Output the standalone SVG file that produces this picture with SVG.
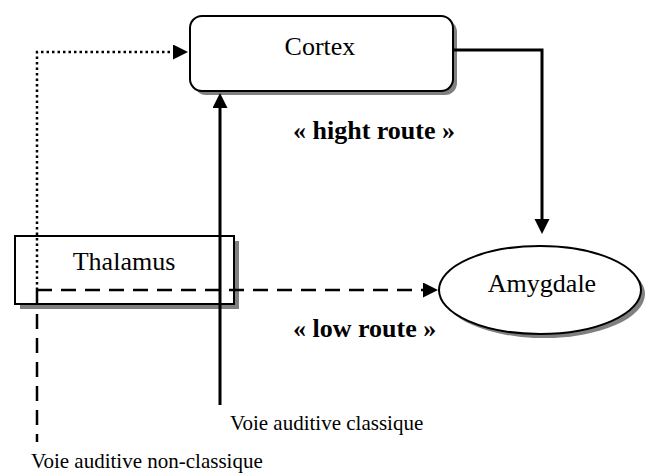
<svg xmlns="http://www.w3.org/2000/svg" width="648" height="474" viewBox="0 0 648 474">
<style>
.lbl{font-family:"Liberation Serif","Times New Roman",serif;fill:#000}
.main{font-size:26px}
.bold{font-size:26px;font-weight:bold}
.small{font-size:21px}
.box{fill:#fff;stroke:#000;stroke-width:2}
.shadow{fill:#808080;stroke:none}
.solid{fill:none;stroke:#000;stroke-width:3}
.dash{fill:none;stroke:#000;stroke-width:2.5;stroke-dasharray:15 9}
.dot{fill:none;stroke:#000;stroke-width:2.5;stroke-dasharray:2.5 3}
</style>
<defs>
<marker id="ah" markerUnits="userSpaceOnUse" markerWidth="16" markerHeight="16" refX="1" refY="7.5" orient="auto">
<path d="M0,0 L15,7.5 L0,15 z" fill="#000"/>
</marker>
</defs>
<rect width="648" height="474" fill="#fff"/>
<g id="cortex">
<rect class="shadow" x="194" y="20" width="263" height="75" rx="12"/>
<rect class="box" x="190" y="16" width="263" height="75" rx="12"/>
<text class="lbl main" x="320" y="55" text-anchor="middle">Cortex</text>
</g>
<g id="thalamus">
<rect class="shadow" x="20" y="241" width="219" height="68"/>
<rect class="box" x="15" y="236" width="219" height="68" stroke-width="1.8"/>
<text class="lbl main" x="124" y="270" text-anchor="middle">Thalamus</text>
</g>
<g id="amygdale">
<ellipse class="shadow" cx="544" cy="294" rx="101" ry="44"/>
<ellipse class="box" cx="540" cy="290" rx="101" ry="44"/>
<text class="lbl main" x="542" y="292" text-anchor="middle">Amygdale</text>
</g>
<g id="connectors">
<path class="dot" d="M37,290 V52 H174" marker-end="url(#ah)"/>
<path class="dash" d="M37,290 H424" marker-end="url(#ah)"/>
<path class="dash" d="M37,290 V442"/>
<path class="solid" d="M220,405 V107" marker-end="url(#ah)"/>
<path class="solid" d="M453,50 H542 V220" marker-end="url(#ah)"/>
</g>
<g id="labels">
<text class="lbl bold" x="293" y="139">« hight route »</text>
<text class="lbl bold" x="293" y="337">« low route »</text>
<text class="lbl small" x="230" y="430">Voie auditive classique</text>
<text class="lbl small" x="31" y="468">Voie auditive non-classique</text>
</g>
</svg>
